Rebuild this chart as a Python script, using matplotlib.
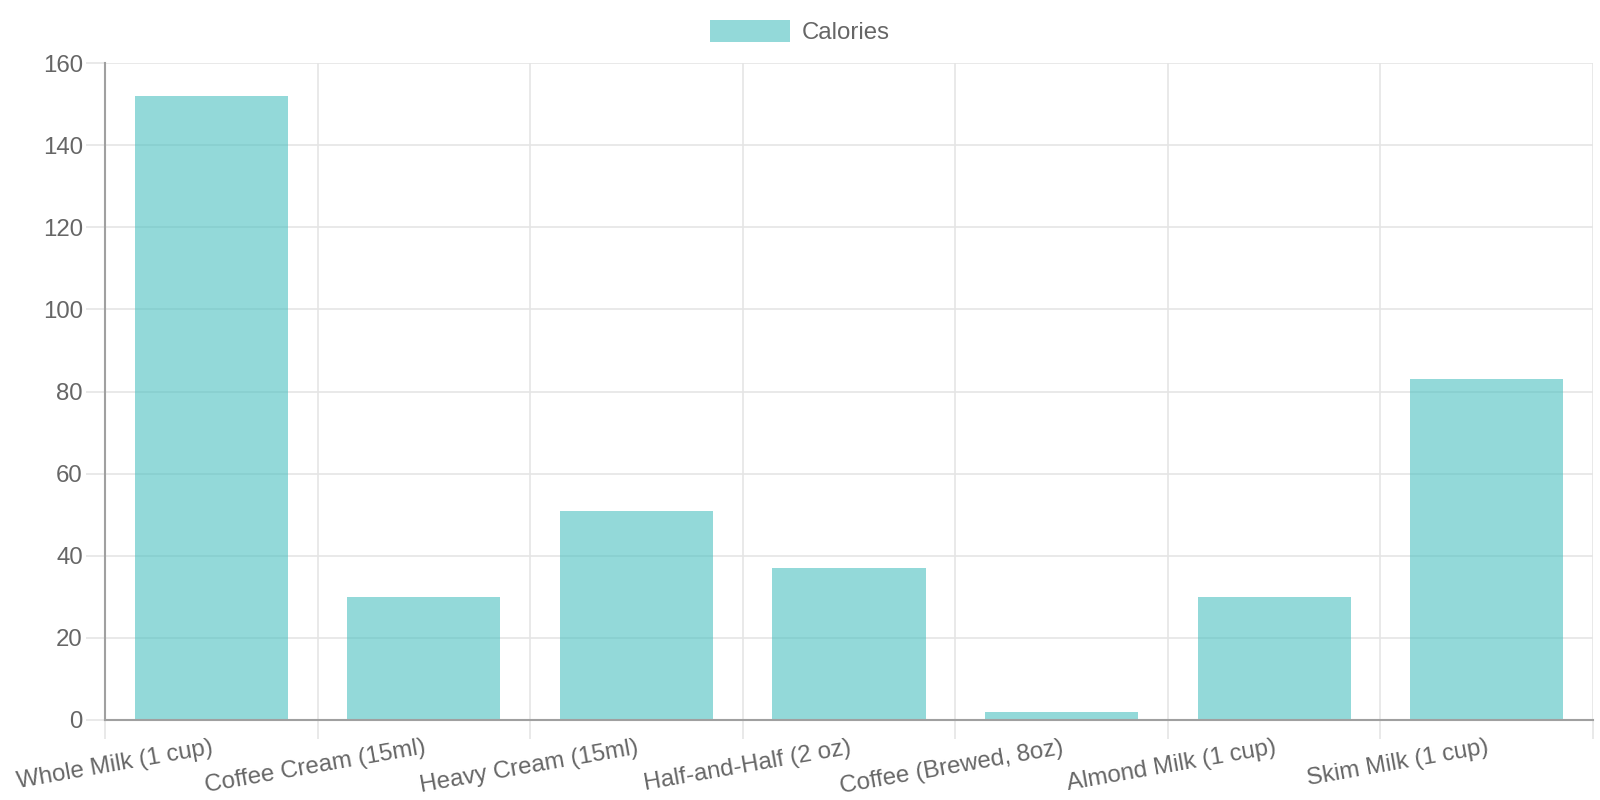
import numpy as np
import matplotlib.pyplot as plt
from matplotlib.patches import Patch

plt.rcParams['font.family'] = ['Liberation Sans', 'DejaVu Sans']

categories = ['Whole Milk (1 cup)', 'Coffee Cream (15ml)', 'Heavy Cream (15ml)',
              'Half-and-Half (2 oz)', 'Coffee (Brewed, 8oz)', 'Almond Milk (1 cup)',
              'Skim Milk (1 cup)']
calories = [152, 30, 51, 37, 2, 30, 83]
y_ticks = [0, 20, 40, 60, 80, 100, 120, 140, 160]

bar_color = (75/255, 192/255, 192/255, 0.6)
text_color = '#666666'
grid_color = '#e5e5e5'
axis_color = '#a0a0a0'
fs = 17.3

fig = plt.figure(figsize=(16, 8), dpi=100)
ax = fig.add_axes([105/1600, 1 - 720/800, 1488/1600, 657/800])

x = np.arange(len(categories))
ax.bar(x, calories, width=0.72, color=bar_color, zorder=2)

ax.set_xlim(-0.5, len(categories) - 0.5)
ax.set_ylim(0, 160)
ax.set_yticks(y_ticks)
ax.set_yticklabels([str(v) for v in y_ticks])

ax.set_xticks(x)
ax.set_xticklabels(categories, rotation=10, ha='right', va='top',
                   rotation_mode='anchor')
ax.set_xticks(np.arange(-0.5, len(categories)), minor=True)

ax.tick_params(axis='x', which='major', length=0, pad=12,
               labelsize=fs, labelcolor=text_color)
ax.tick_params(axis='x', which='minor', length=14, width=1.2, color=grid_color)
ax.tick_params(axis='y', length=14, width=1.2, color=grid_color, pad=2,
               labelsize=fs, labelcolor=text_color)

ax.grid(True, axis='y', color=grid_color, linewidth=1.2, zorder=0)
ax.grid(True, axis='x', which='minor', color=grid_color, linewidth=1.2, zorder=0)
ax.grid(False, axis='x', which='major')
ax.set_axisbelow(True)

for side in ['top', 'right']:
    ax.spines[side].set_visible(False)
for side in ['left', 'bottom']:
    ax.spines[side].set_color(axis_color)
    ax.spines[side].set_linewidth(1.5)

fig.legend(handles=[Patch(facecolor=bar_color, edgecolor='none', label='Calories')],
           loc='center', bbox_to_anchor=(0.5, 1 - 32/800), frameon=False,
           fontsize=fs, labelcolor=text_color, handlelength=3.3,
           handleheight=1.0, handletextpad=0.5)

fig.savefig('out.png', dpi=100)
